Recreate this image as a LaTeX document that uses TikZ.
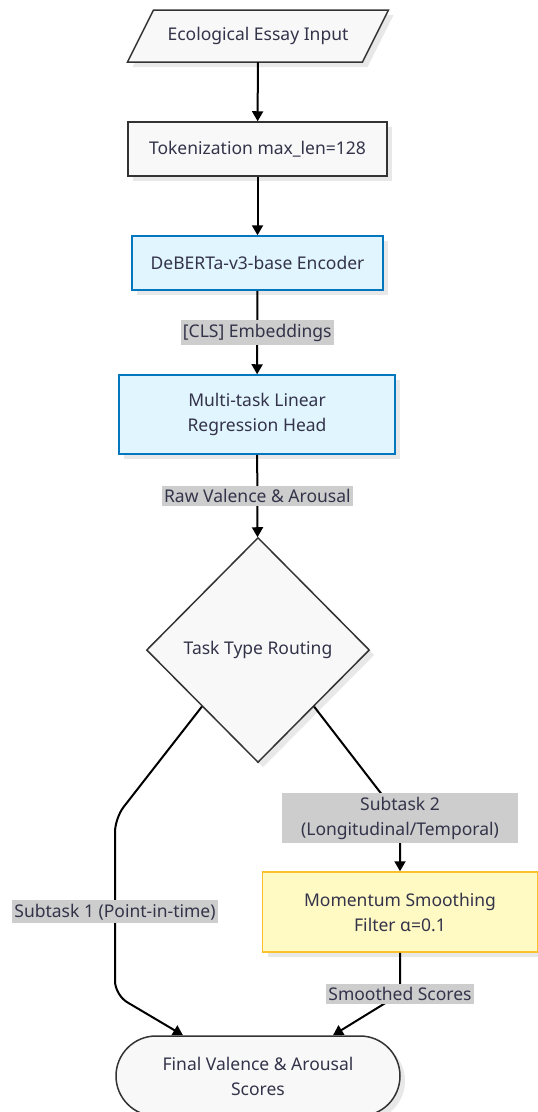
\documentclass[tikz,border=0pt]{standalone}
\usepackage{fontspec}
\setmainfont{Noto Sans}
\usetikzlibrary{shapes.geometric,arrows.meta,calc,shadows}
\definecolor{ink}{HTML}{33334A}
\definecolor{plainfill}{HTML}{F8F8F8}
\definecolor{plainline}{HTML}{333333}
\definecolor{encfill}{HTML}{E1F5FE}
\definecolor{encline}{HTML}{0277BD}
\definecolor{filtfill}{HTML}{FFF9C4}
\definecolor{filtline}{HTML}{FBC02D}
\definecolor{lblfill}{HTML}{CDCDCD}

\begin{document}
\begin{tikzpicture}[x=1pt,y=-1pt,
  font=\fontsize{17.5pt}{25pt}\selectfont,
  outline/.style={draw=plainline,fill=plainfill,line width=1.5pt,
    drop shadow={shadow xshift=5pt,shadow yshift=-5pt,fill=black!9,opacity=1}},
  box/.style={outline,inner sep=0pt,text=ink,align=center},
  encbox/.style={box,draw=encline,fill=encfill},
  filtbox/.style={box,draw=filtline,fill=filtfill},
  lbl/.style={fill=lblfill,text=ink,sharp corners,inner xsep=2pt,inner ysep=3.5pt,align=center},
  flow/.style={line width=2pt,draw=black,-{Triangle[length=10pt,width=11pt]}}]
  \useasboundingbox (0,0) rectangle (538,1112);
  \clip (0,0) rectangle (538,1112);

  % input parallelogram: frame first, text on top
  \coordinate (inSW) at (127.5,62);
  \coordinate (inNE) at (388.5,10);
  \draw[outline] (inSW) -- ++(26,-52) -- (inNE) -- ++(-26,52) -- cycle;
  \node[inner sep=0pt,text=ink,minimum width=261pt,minimum height=52pt]
    (input) at (258,36) {Ecological Essay Input};

  % pipeline
  \node[box,minimum width=259pt,minimum height=54pt] (token) at (257.5,149) {Tokenization max\_len=128};
  \node[encbox,minimum width=251pt,minimum height=54pt] (encoder) at (257.5,263) {DeBERTa-v3-base Encoder};
  \node[encbox,minimum width=276pt,minimum height=79pt] (head) at (257,414.5) {Multi-task Linear\\Regression Head};
  \node[box,diamond,minimum width=223pt,minimum height=225pt] (route) at (258,650) {Task Type Routing};
  \node[filtbox,minimum width=275pt,minimum height=80pt] (smooth) at (400,912) {Momentum Smoothing\\Filter α=0.1};
  \node[box,rounded corners=40pt,minimum width=284pt,minimum height=80pt] (final) at (258,1076) {Final Valence \& Arousal\\Scores};

  % connectors
  \draw[flow] (input) -- (token);
  \draw[flow] (token) -- (encoder);
  \draw[flow] (encoder) -- node[lbl] {[CLS] Embeddings} (head);
  \draw[flow] (head) -- node[lbl] {Raw Valence \& Arousal} (route);
  \draw[flow,rounded corners=14pt] (route.south west) -- (115,818)
    -- node[lbl,pos=0.53] {Subtask 1 (Point-in-time)} (115,995)
    -- ($(final.north)+(-75,0)$);
  \draw[flow,rounded corners=10pt] (route.south east) -- (400,818)
    node[lbl,minimum width=236pt,minimum height=50pt,inner ysep=0pt] {Subtask 2\\(Longitudinal/Temporal)} -- (smooth);
  \draw[flow] (smooth) -- (400,994) node[lbl] {Smoothed Scores}
    -- ($(final.north)+(75,0)$);
\end{tikzpicture}
\end{document}
